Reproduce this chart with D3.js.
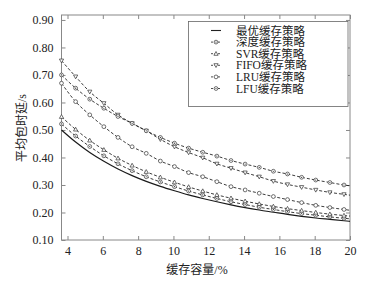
<!DOCTYPE html>
<html><head><meta charset="utf-8">
<script src="https://cdn.jsdelivr.net/npm/d3@7"></script>
<style>body{margin:0;background:#fff}svg{display:block}</style>
</head><body>
<svg id="c" width="372" height="281"></svg>
<script>
const xValues = [3.66,4.46,5.26,6.06,6.86,7.66,8.46,9.26,10.06,10.86,11.66,12.46,13.26,14.06,14.86,15.66,16.46,17.26,18.06,18.86,19.66,20];
const optimal = [0.500,0.456,0.418,0.386,0.358,0.334,0.313,0.295,0.279,0.264,0.251,0.239,0.228,0.218,0.209,0.201,0.193,0.186,0.180,0.175,0.170,0.168];
const depth   = [0.522,0.478,0.440,0.406,0.377,0.352,0.330,0.311,0.294,0.278,0.264,0.251,0.239,0.229,0.219,0.211,0.203,0.196,0.190,0.184,0.179,0.177];
const svr     = [0.548,0.502,0.462,0.428,0.397,0.371,0.348,0.328,0.310,0.293,0.278,0.264,0.252,0.241,0.231,0.222,0.214,0.207,0.200,0.194,0.189,0.187];
const fifo    = [0.752,0.694,0.639,0.597,0.555,0.524,0.497,0.466,0.439,0.418,0.399,0.377,0.361,0.345,0.330,0.314,0.302,0.292,0.282,0.273,0.266,0.263];
const lru     = [0.670,0.603,0.555,0.512,0.473,0.439,0.415,0.387,0.367,0.345,0.330,0.312,0.294,0.282,0.270,0.258,0.247,0.236,0.226,0.218,0.211,0.208];
const lfu     = [0.700,0.652,0.612,0.579,0.549,0.524,0.497,0.473,0.452,0.434,0.419,0.405,0.389,0.376,0.364,0.350,0.340,0.328,0.318,0.309,0.300,0.297];
const seriesNames = ["最优缓存策略","深度缓存策略","SVR缓存策略","FIFO缓存策略","LRU缓存策略","LFU缓存策略"];
const seriesData = [optimal, depth, svr, fifo, lru, lfu];
const seriesMarker = ["none","circle","triUp","triDown","square","circle"];
const xTicks = [4,6,8,10,12,14,16,18,20];
const yTicks = [0.1,0.2,0.3,0.4,0.5,0.6,0.7,0.8,0.9];
const xTitle = "缓存容量/%";
const yTitle = "平均包时延/s";

const svg = d3.select("#c");
const L=61.5, R=350, T=15, B=240;
const x = d3.scaleLinear().domain([3.66,20]).range([L,R]);
const y = d3.scaleLinear().domain([0.1,0.918]).range([B,T]);
const axisCol="#888", textCol="#222";
const font="'Liberation Serif','Times New Roman','Noto Sans CJK SC',serif";

svg.append("rect").attr("x",L).attr("y",T).attr("width",R-L).attr("height",B-T)
  .attr("fill","none").attr("stroke",axisCol).attr("stroke-width",1);

const gx = svg.append("g").attr("transform",`translate(0,${B})`)
  .call(d3.axisBottom(x).tickValues(xTicks).tickSize(-4).tickPadding(6).tickFormat(d3.format("d")));
const gxt = svg.append("g").attr("transform",`translate(0,${T})`)
  .call(d3.axisTop(x).tickValues(xTicks).tickSize(-4).tickFormat(""));
const gy = svg.append("g").attr("transform",`translate(${L},0)`)
  .call(d3.axisLeft(y).tickValues(yTicks).tickSize(-4).tickPadding(8).tickFormat(d3.format(".2f")));
const gyr = svg.append("g").attr("transform",`translate(${R},0)`)
  .call(d3.axisRight(y).tickValues(yTicks).tickSize(-4).tickFormat(""));
[gx,gxt,gy,gyr].forEach(g=>{
  g.select(".domain").remove();
  g.selectAll(".tick line").attr("stroke",axisCol);
  g.selectAll("text").attr("fill",textCol).style("font-family",font).style("font-size","12px");
});

const line = d3.line().x((d,i)=>x(xValues[i])).y(d=>y(d)).curve(d3.curveMonotoneX);
function drawMarker(g, type, cx, cy){
  const s=1.9, sw=0.7, c="#333";
  if(type==="circle"){
    g.append("circle").attr("cx",cx).attr("cy",cy).attr("r",s).attr("fill","#fff").attr("stroke",c).attr("stroke-width",sw);
    g.append("circle").attr("cx",cx).attr("cy",cy).attr("r",0.6).attr("fill",c);
  } else if(type==="square"){
    g.append("circle").attr("cx",cx).attr("cy",cy).attr("r",s).attr("fill","#fff").attr("stroke",c).attr("stroke-width",sw);
  } else if(type==="triUp"){
    g.append("path").attr("d",`M${cx},${cy-s-0.3}L${cx+s+0.2},${cy+s-0.3}L${cx-s-0.2},${cy+s-0.3}Z`).attr("fill","#fff").attr("stroke",c).attr("stroke-width",sw);
  } else if(type==="triDown"){
    g.append("path").attr("d",`M${cx},${cy+s+0.3}L${cx+s+0.2},${cy-s+0.3}L${cx-s-0.2},${cy-s+0.3}Z`).attr("fill","#fff").attr("stroke",c).attr("stroke-width",sw);
  }
}
const plot = svg.append("g");
seriesData.forEach((vals,si)=>{
  plot.append("path").attr("d",line(vals)).attr("fill","none").attr("stroke","#1a1a1a")
    .attr("stroke-width",si===0?1.2:0.85).attr("stroke-dasharray",si===0?null:"3,2");
  if(seriesMarker[si]!=="none"){
    const mg = plot.append("g");
    vals.forEach((v,i)=>{ if(i<vals.length-1) drawMarker(mg, seriesMarker[si], x(xValues[i]), y(v)); });
  }
});

const lg = svg.append("g");
lg.append("rect").attr("x",188.5).attr("y",21.5).attr("width",159.5).attr("height",85)
  .attr("fill","#fff").attr("stroke","#666").attr("stroke-width",0.8);
seriesNames.forEach((n,i)=>{
  const yy = 30.5 + i*11.6;
  lg.append("line").attr("x1",211).attr("x2",221).attr("y1",yy).attr("y2",yy)
    .attr("stroke","#222").attr("stroke-width",i===0?1.1:0.8).attr("stroke-dasharray",i===0?null:"2,1.5");
  if(seriesMarker[i]!=="none") drawMarker(lg, seriesMarker[i], 216, yy);
  lg.append("text").attr("x",236).attr("y",yy).attr("dy","0.35em").text(n)
    .attr("fill",textCol).style("font-family",font).style("font-size","11.5px");
});

svg.append("text").attr("x",197).attr("y",270).attr("dy","0.35em").attr("text-anchor","middle")
  .text(xTitle).attr("fill",textCol).style("font-family",font).style("font-size","12px");
svg.append("text").attr("transform","translate(22,128) rotate(-90)").attr("dy","0.35em").attr("text-anchor","middle")
  .text(yTitle).attr("fill",textCol).style("font-family",font).style("font-size","12px");
</script>
</body></html>
